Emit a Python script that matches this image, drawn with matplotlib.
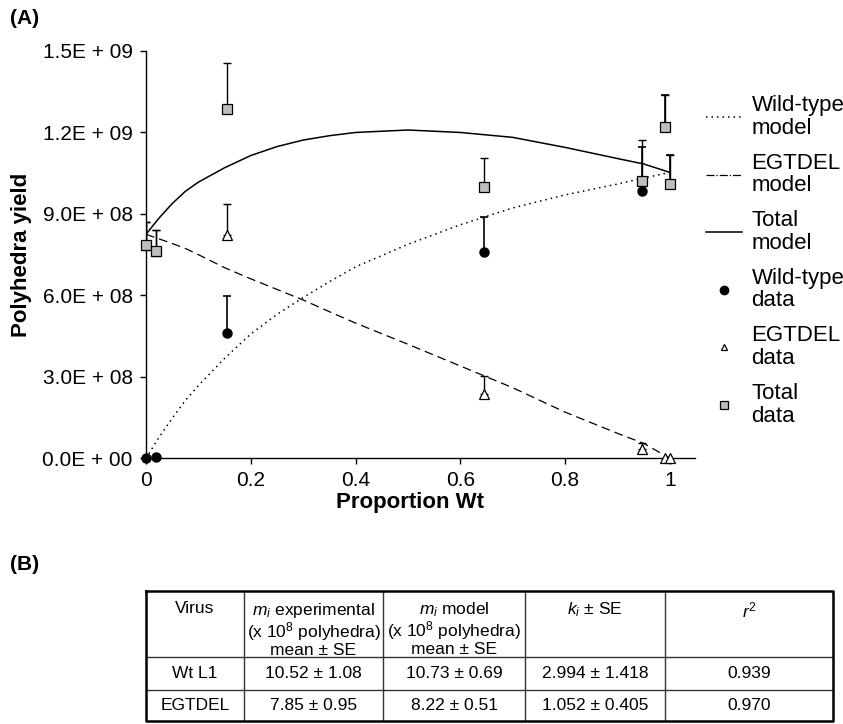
import numpy as np
import matplotlib
matplotlib.use('Agg')
from matplotlib import pyplot as plt
from matplotlib import font_manager
from matplotlib.lines import Line2D

# model curves (polyhedra yield vs proportion Wt)
prop_model = [0, 0.025, 0.05, 0.075, 0.1, 0.15, 0.2, 0.25, 0.3, 0.35,
              0.4, 0.5, 0.6, 0.7, 0.8, 0.9, 0.95, 1.0]
wt_model = [0, 0.78, 1.47, 2.13, 2.68, 3.68, 4.58, 5.30, 5.92, 6.50,
            7.05, 7.88, 8.60, 9.22, 9.70, 10.10, 10.32, 10.53]
egt_model = [8.25, 8.08, 7.91, 7.73, 7.50, 7.02, 6.61, 6.22, 5.83, 5.40,
             4.98, 4.20, 3.40, 2.60, 1.70, 0.92, 0.55, 0.0]
total_model = [8.25, 8.85, 9.38, 9.83, 10.17, 10.70, 11.15, 11.48, 11.72, 11.88,
               12.00, 12.09, 12.00, 11.82, 11.45, 11.04, 10.84, 10.53]

# data points (x 1e8) and upper SE
prop_data = [0, 0.019, 0.155, 0.646, 0.946, 0.991, 1.0]
wt_data = [0, 0.05, 4.60, 7.59, 9.85, 12.19, 10.10]
wt_err = [0, 0, 1.37, 1.30, 1.60, 1.18, 1.06]
egt_data = [7.85, 7.64, 8.22, 2.37, 0.34, 0.0, 0.0]
egt_err = [0.86, 0.76, 1.14, 0.66, 0.23, 0, 0]
total_data = [7.85, 7.64, 12.85, 9.99, 10.20, 12.19, 10.10]
total_err = [0.86, 0.76, 1.71, 1.08, 1.53, 1.18, 1.06]

yticks = [0, 3e8, 6e8, 9e8, 1.2e9, 1.5e9]
ytick_labels = ['0.0E + 00', '3.0E + 08', '6.0E + 08', '9.0E + 08', '1.2E + 09', '1.5E + 09']
xticks = [0, 0.2, 0.4, 0.6, 0.8, 1.0]
xtick_labels = ['0', '0.2', '0.4', '0.6', '0.8', '1']

legend_labels = ['Wild-type\nmodel', 'EGTDEL\nmodel', 'Total\nmodel',
                 'Wild-type\ndata', 'EGTDEL\ndata', 'Total\ndata']

# table (B)
table_header = ['Virus',
                '$m_i$ experimental\n(x 10$^8$ polyhedra)\nmean ± SE',
                '$m_i$ model\n(x 10$^8$ polyhedra)\nmean ± SE',
                '$k_i$ ± SE',
                '$r^2$']
virus = ['Wt L1', 'EGTDEL']
m_exp = ['10.52 ± 1.08', '7.85 ± 0.95']
m_model = ['10.73 ± 0.69', '8.22 ± 0.51']
k_se = ['2.994 ± 1.418', '1.052 ± 0.405']
r_sq = ['0.939', '0.970']

names = {f.name for f in font_manager.fontManager.ttflist}
base = 'Liberation Sans' if 'Liberation Sans' in names else 'DejaVu Sans'
narrow = 'Liberation Sans Narrow' if 'Liberation Sans Narrow' in names else base

plt.rcParams['font.family'] = [base, 'DejaVu Sans']
plt.rcParams['mathtext.fontset'] = 'custom'
plt.rcParams['mathtext.rm'] = narrow
plt.rcParams['mathtext.it'] = narrow + ':italic'

fig = plt.figure(figsize=(8.43, 7.24), dpi=100)
ax = fig.add_axes([146/843, 1 - 458.3/724, 549/843, 407.3/724])

scale = 1e8
wt_m = np.array(wt_model) * scale
egt_m = np.array(egt_model) * scale
tot_m = np.array(total_model) * scale

ax.plot(prop_model, wt_m, color='k', lw=1.1, linestyle=(0, (1, 2.6)))
ax.plot(prop_model, egt_m, color='k', lw=0.9, linestyle=(0, (7, 4)))
ax.plot(prop_model, tot_m, color='k', lw=1.1)


def upper_bars(x, y, err, lw):
    x = np.array(x)
    y = np.array(y) * scale
    e = np.array(err) * scale
    keep = e > 0
    ax.errorbar(x[keep], y[keep], yerr=[np.zeros(keep.sum()), e[keep]],
                fmt='none', ecolor='k', elinewidth=lw, capsize=3, capthick=lw,
                zorder=3)


upper_bars(prop_data, total_data, total_err, 1.0)
upper_bars(prop_data, wt_data, wt_err, 1.2)
upper_bars(prop_data, egt_data, egt_err, 1.0)

ax.plot(prop_data, np.array(wt_data) * scale, 'o', ms=6.5, color='k',
        clip_on=False, zorder=4)
ax.plot(prop_data, np.array(egt_data) * scale, '^', ms=7, mfc='white',
        mec='k', mew=0.9, clip_on=False, zorder=5)
ax.plot(prop_data, np.array(total_data) * scale, 's', ms=6.5, mfc='#bdbdbd',
        mec='k', mew=0.9, clip_on=False, zorder=6)

ax.set_xlim(0, 1.048)
ax.set_ylim(0, 1.5e9)
ax.set_xticks(xticks)
ax.set_xticklabels(xtick_labels)
ax.set_yticks(yticks)
ax.set_yticklabels(ytick_labels)
ax.tick_params(direction='out', length=4.5, width=1, labelsize=15, pad=5)
for side in ['top', 'right']:
    ax.spines[side].set_visible(False)
for side in ['left', 'bottom']:
    ax.spines[side].set_linewidth(1)

ax.set_xlabel('Proportion Wt', fontweight='bold', fontsize=16)
ax.xaxis.set_label_coords(0.481, -0.082)
ax.set_ylabel('Polyhedra yield', fontweight='bold', fontsize=16)
ax.yaxis.set_label_coords(-0.208, 0.5)

handles = [
    Line2D([], [], color='k', lw=1.1, linestyle=(0, (1, 2.6))),
    Line2D([], [], color='k', lw=0.9, linestyle='-.'),
    Line2D([], [], color='k', lw=1.1),
    Line2D([], [], marker='o', ms=6, color='k', linestyle='none'),
    Line2D([], [], marker='^', ms=5, mfc='white', mec='k', mew=0.9, linestyle='none'),
    Line2D([], [], marker='s', ms=5.5, mfc='#bdbdbd', mec='k', mew=0.9, linestyle='none'),
]
leg = fig.legend(handles, legend_labels, loc='upper left',
                 bbox_to_anchor=(706/843, 1 - 95/724), frameon=False, fontsize=16,
                 handlelength=1.6, handletextpad=0.45, labelspacing=0.63,
                 borderaxespad=0, borderpad=0)
for t in leg.get_texts():
    t.set_linespacing(1.1)

fig.text(10/843, 1 - 18/724, '(A)', fontweight='bold', fontsize=15, va='center')
fig.text(10/843, 1 - 565/724, '(B)', fontweight='bold', fontsize=15, va='center')

# table drawn in its own axes
tax = fig.add_axes([146/843, 3/724, 687/843, 130/724])
tax.set_xlim(0, 1)
tax.set_ylim(1, 0)
tax.axis('off')
col_edges = [0, 0.1426, 0.345, 0.5517, 0.7555, 1]
row_edges = [0, 0.5077, 0.7615, 1]
for c in col_edges[1:-1]:
    tax.plot([c, c], [0, 1], color='#333333', lw=1.0)
for r in row_edges[1:-1]:
    tax.plot([0, 1], [r, r], color='#333333', lw=1.0)
tax.plot([0, 1, 1, 0, 0], [0, 0, 1, 1, 0], color='k', lw=1.8, clip_on=False)

centers = [(col_edges[i] + col_edges[i + 1]) / 2 for i in range(5)]
for i, txt in enumerate(table_header):
    tax.text(centers[i], 0.075, txt, ha='center', va='top', fontsize=12.5,
             family=narrow, linespacing=1.0)
rows = list(zip(virus, m_exp, m_model, k_se, r_sq))
for j, row in enumerate(rows):
    yc = (row_edges[j + 1] + row_edges[j + 2]) / 2
    for i, txt in enumerate(row):
        tax.text(centers[i], yc, txt, ha='center', va='center', fontsize=12.5,
                 family=narrow)

fig.savefig('out.png', dpi=100)
